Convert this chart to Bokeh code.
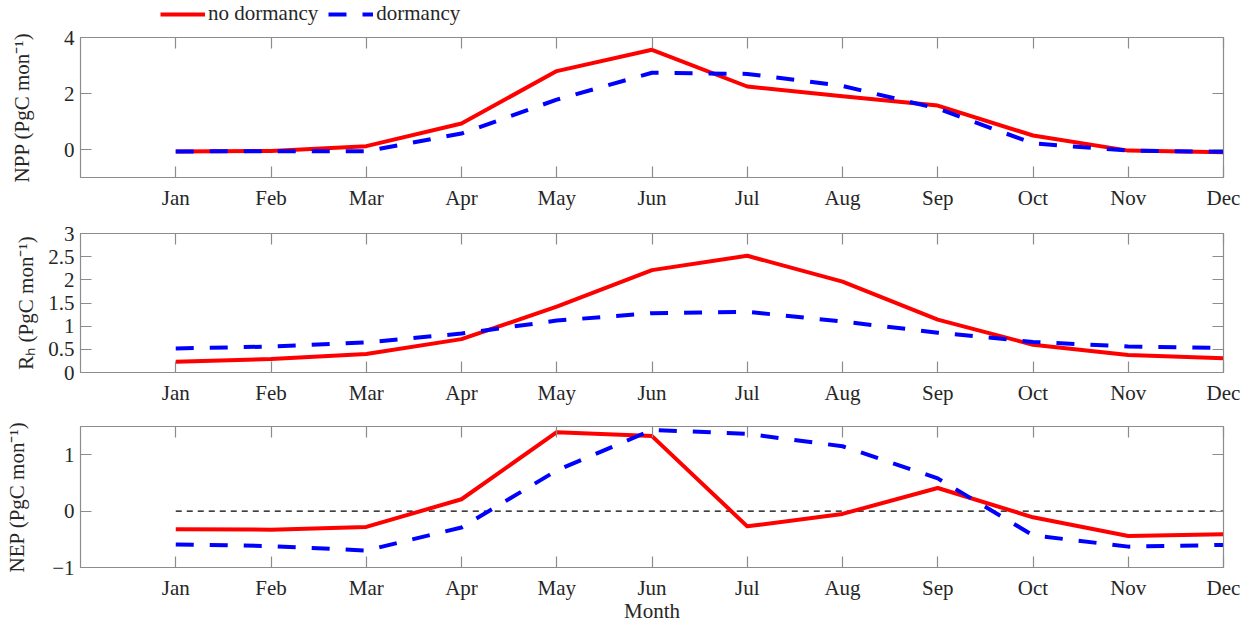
from bokeh.plotting import figure
from bokeh.models import LinearAxis, FixedTicker, Range1d, Legend, LegendItem, CustomLabelingPolicy
from bokeh.layouts import column
from bokeh.embed import file_html
from bokeh.resources import INLINE

months = ["Jan", "Feb", "Mar", "Apr", "May", "Jun", "Jul", "Aug", "Sep", "Oct", "Nov", "Dec"]
month_pos = [1, 2, 3, 4, 5, 6, 7, 8, 9, 10, 11, 12]

npp_nodorm = [-0.07, -0.05, 0.12, 0.93, 2.80, 3.56, 2.25, 1.90, 1.57, 0.50, -0.04, -0.10]
npp_dorm = [-0.07, -0.06, -0.06, 0.57, 1.78, 2.74, 2.70, 2.27, 1.46, 0.22, -0.04, -0.08]

rh_nodorm = [0.23, 0.29, 0.40, 0.72, 1.42, 2.21, 2.52, 1.96, 1.14, 0.60, 0.38, 0.31]
rh_dorm = [0.52, 0.56, 0.65, 0.84, 1.12, 1.28, 1.31, 1.10, 0.86, 0.66, 0.56, 0.53]

nep_nodorm = [-0.32, -0.33, -0.28, 0.21, 1.40, 1.33, -0.27, -0.05, 0.41, -0.11, -0.44, -0.41]
nep_dorm = [-0.59, -0.62, -0.70, -0.29, 0.72, 1.44, 1.37, 1.15, 0.58, -0.43, -0.63, -0.60]

zero_x = [1, 12]
zero_y = [0, 0]

npp_ticks = [0, 2, 4]
rh_ticks = [0, 0.5, 1, 1.5, 2, 2.5, 3]
nep_ticks = [-1, 0, 1]

series_labels = ["no dormancy", "dormancy"]

FONT = "Liberation Serif"
AX = "#8c8c8c"
TXT = "#262626"
FS = "21px"
W = 1252
RED = "#ff0000"
BLUE = "#0000ff"
DASH = "18 16"


def style(ax, ticks, labels=True, overrides=None):
    ax.ticker = FixedTicker(ticks=ticks)
    ax.minor_tick_line_color = None
    ax.major_tick_in = 11
    ax.major_tick_out = 0
    ax.axis_line_color = AX
    ax.major_tick_line_color = AX
    ax.axis_line_width = 1.2
    ax.major_tick_line_width = 1.2
    ax.major_label_text_font = FONT
    ax.major_label_text_color = TXT
    ax.axis_label_text_font = FONT
    ax.axis_label_text_font_style = "normal"
    ax.axis_label_text_font_size = FS
    ax.axis_label_text_color = TXT
    if labels:
        ax.major_label_text_font_size = FS
    else:
        # mirror axis: tick marks only, no labels drawn
        ax.major_label_text_font_size = "0px"
        ax.major_label_standoff = 0
        ax.major_label_policy = CustomLabelingPolicy(code="return [];")
    if overrides:
        ax.major_label_overrides = overrides


def make_panel(height, top, bottom, yr, yticks, ylabel, ylab_standoff, xlabel=None):
    p = figure(width=W, height=height, output_backend="svg", toolbar_location=None,
               x_range=Range1d(0, 12), y_range=Range1d(*yr),
               min_border_left=80, min_border_right=29,
               min_border_top=top, min_border_bottom=bottom)
    p.grid.visible = False
    p.outline_line_color = AX
    p.background_fill_color = "white"
    p.border_fill_color = "white"
    p.add_layout(LinearAxis(), "above")
    p.add_layout(LinearAxis(), "right")
    ov = {m: lab for m, lab in zip(month_pos, months)}
    style(p.below[0], month_pos, True, ov)
    p.below[0].major_label_standoff = 8
    style(p.above[0], month_pos, False)
    style(p.left[0], yticks, True)
    p.left[0].major_label_standoff = 6
    p.left[0].axis_label = ylabel
    p.left[0].axis_label_standoff = ylab_standoff
    style(p.right[0], yticks, False)
    if xlabel:
        p.below[0].axis_label = xlabel
        p.below[0].axis_label_standoff = -4
    return p


# legend strip on top
p0 = figure(width=W, height=27, output_backend="svg", toolbar_location=None,
            x_range=Range1d(0, 1), y_range=Range1d(0, 1), min_border=0,
            x_axis_type=None, y_axis_type=None)
p0.grid.visible = False
p0.outline_line_color = None
lr1 = p0.line(month_pos, npp_nodorm, line_color=RED, line_width=4, visible=False)
lr2 = p0.line(month_pos, npp_dorm, line_color=BLUE, line_width=4, line_dash=DASH, visible=False)
legend = Legend(items=[LegendItem(label=series_labels[0], renderers=[lr1]),
                       LegendItem(label=series_labels[1], renderers=[lr2])],
                orientation="horizontal", location=(80, 1),
                border_line_color=None, background_fill_alpha=0,
                inactive_fill_alpha=0, click_policy="none",
                padding=0, margin=0, spacing=10, glyph_width=45, glyph_height=20,
                label_height=20, label_standoff=3, label_text_font=FONT,
                label_text_font_size=FS, label_text_color=TXT)
p0.add_layout(legend)

p1 = make_panel(190, 10, 40, (-1, 4), npp_ticks, "NPP (PgC mon\u207b\u00b9)", 27)
p1.line(month_pos, npp_nodorm, line_color=RED, line_width=4, line_join="round")
p1.line(month_pos, npp_dorm, line_color=BLUE, line_width=4, line_dash=DASH, line_join="round")

p2 = make_panel(195, 16, 40, (0, 3), rh_ticks, "R\u2095 (PgC mon\u207b\u00b9)", 7)
p2.line(month_pos, rh_nodorm, line_color=RED, line_width=4, line_join="round")
p2.line(month_pos, rh_dorm, line_color=BLUE, line_width=4, line_dash=DASH, line_join="round")

p3 = make_panel(213, 14, 58, (-1, 1.5), nep_ticks, "NEP (PgC mon\u207b\u00b9)", 20, xlabel="Month")
p3.line(zero_x, zero_y, line_color="black", line_width=1.3, line_dash="6 5")
p3.line(month_pos, nep_nodorm, line_color=RED, line_width=4, line_join="round")
p3.line(month_pos, nep_dorm, line_color=BLUE, line_width=4, line_dash=DASH, line_join="round")

layout = column(p0, p1, p2, p3, spacing=0)
open("out.html", "w").write(file_html(layout, INLINE))
